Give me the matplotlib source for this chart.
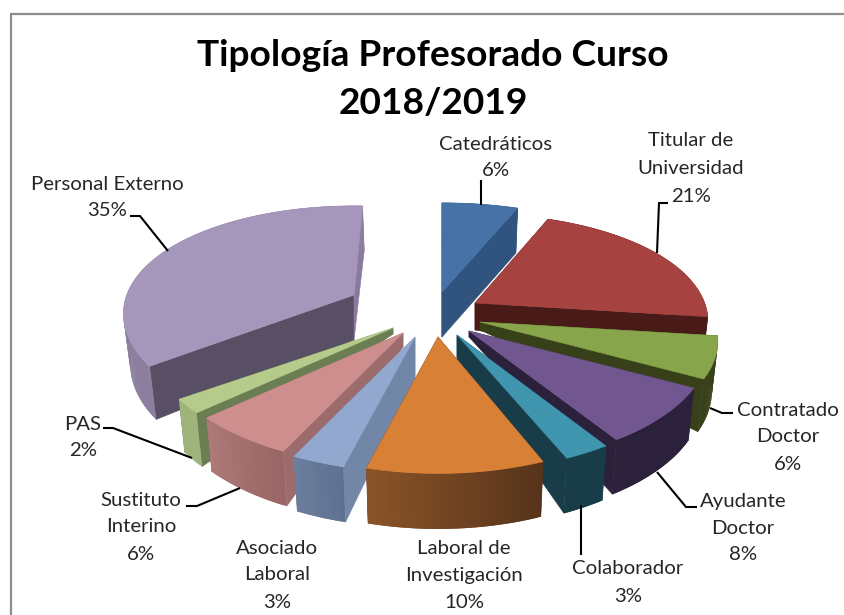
import numpy as np
import matplotlib
matplotlib.use("Agg")
import matplotlib.pyplot as plt
from matplotlib.colors import to_rgb
from matplotlib.patches import Polygon

# ---- data ----
categories = ["Catedráticos", "Titular de\nUniversidad", "Contratado\nDoctor", "Ayudante\nDoctor",
              "Colaborador", "Laboral de\nInvestigación", "Asociado\nLaboral", "Sustituto\nInterino",
              "PAS", "Personal Externo"]
values = [6, 21, 6, 8, 3, 10, 3, 6, 2, 35]
title = "Tipología Profesorado Curso\n2018/2019"

# ---- styling / layout (pixel space of the 844x615 canvas) ----
top_colors = ["#4672a8", "#a6423f", "#87a54a", "#71568f", "#3f96ae", "#d88036", "#93a8cf", "#ce8e8d", "#b5cb8c", "#a597bb"]
face_colors = ["#30547e", "#481a18", "#384019", "#2c213a", "#193c49", "#56331a", "#7287a8", "#9c6c6c", "#6b7d53", "#594f64"]
arc_start = ["#30547e", "#481a18", "#384019", "#2c213a", "#193c49", "#56331a", "#5f7090", "#996665", "#9fb47b", "#8c7f9e"]
arc_end = ["#30547e", "#481a18", "#384019", "#2c213a", "#193c49", "#8a5428", "#6b7e9c", "#ad7a78", "#9fb47b", "#8c7f9e"]
tips = [(442, 292), (475, 303), (480, 322), (469, 331), (457, 335), (438, 337), (415, 337), (403, 333), (393, 328), (354, 295)]
tip_depth = [45, 27, 8, 6, 26, 40, 41, 14, 6, 45]
scale_x = [1.0, 0.965, 0.985, 0.99, 1.0, 1.01, 1.01, 1.0, 1.0, 0.955]
scale_y = [1.0, 1.0, 1.0, 1.0, 1.02, 1.02, 1.01, 1.0, 1.0, 1.0]
sweep_stretch = [1.0, 1.0, 1.0, 1.0, 0.88, 1.0, 1.0, 1.0, 1.0, 1.02]
draw_order = [9, 0, 1, 2, 3, 4, 8, 7, 6, 5]
label_pos = [(496, [144, 170]), (691, [140, 167, 195]), (788, [409, 436, 463]), (743, [500, 527, 554]),
             (628, [568, 595]), (464, [547, 574, 601]), (277, [547, 574, 601]), (141, [499, 526, 554]),
             (83, [423, 450]), (107, [183, 209])]
leaders = [[(481, 180), (481, 205)],
           [(668, 203), (659, 203), (657, 253)],
           [(710, 408), (722, 413), (733, 413)],
           [(657, 472), (686, 507), (697, 507)],
           [(581, 505), (581, 555)],
           [],
           [],
           [(186, 506), (197, 506), (240, 488)],
           [(103, 428), (113, 428), (192, 458)],
           [(130, 216), (140, 216), (168, 251)]]
RX, KX, RY, KY, CX = 238.0, 0.17, 107.0, 0.20, 440.0

plt.rcParams["font.family"] = ["Lato", "DejaVu Sans"]
fig = plt.figure(figsize=(8.44, 6.15), dpi=100, facecolor="white")
ax = fig.add_axes([0, 0, 1, 1])
ax.set_xlim(0, 844)
ax.set_ylim(615, 0)
ax.axis("off")

# chart frame
ax.plot([10.5, 10.5, 846], [620, 14, 14], color="#8c8c8c", lw=1.6, solid_joinstyle="miter")


def rim(i, theta, t_start):
    tx, ty = tips[i]
    th = t_start + (theta - t_start) * sweep_stretch[i]
    s, c = np.sin(th), np.cos(th)
    return (tx + RX * scale_x[i] * s / (1 + KX * c),
            ty - RY * scale_y[i] * c / (1 + KY * c))


def drop(x, y, theta):
    return (CX + (x - CX) * 0.978, y + 50 * (1 - 0.11 * np.cos(theta)))


total = sum(values)
edges = np.cumsum([0] + values) / total * 2 * np.pi

for i in draw_order:
    t0, t1 = edges[i], edges[i + 1]
    thetas = np.linspace(t0, t1, max(5, int(values[i] * 6)))
    tx, ty = tips[i]
    tip_low = (tx, ty + tip_depth[i])
    z = 2 + draw_order.index(i)
    # radial cut faces
    for t, col in ((t0, face_colors[i]), (t1, "#8a7a9e" if i == 9 else face_colors[i])):
        p = rim(i, t, t0)
        ax.add_patch(Polygon([(tx, ty), p, drop(*p, t), tip_low], fc=col, ec=col, lw=0.4, zorder=z))
    # outer rim with a horizontal shade; each strip overlaps the next to avoid seams
    c0, c1 = np.array(to_rgb(arc_start[i])), np.array(to_rgb(arc_end[i]))
    n = len(thetas)
    for k in range(n - 1):
        a, b = thetas[k], thetas[min(k + 2, n - 1)]
        pa, pb = rim(i, a, t0), rim(i, b, t0)
        col = c0 + (c1 - c0) * k / max(1, n - 2)
        ax.add_patch(Polygon([pa, pb, drop(*pb, b), drop(*pa, a)], fc=col, ec="none", lw=0, zorder=z + 0.1 + 0.001 * k))
    # top face
    pts = [(tx, ty)] + [rim(i, t, t0) for t in thetas]
    ax.add_patch(Polygon(pts, fc=top_colors[i], ec=top_colors[i], lw=0.4, zorder=z + 0.5))

# leader lines
for path in leaders:
    if path:
        xs, ys = zip(*path)
        ax.plot(xs, ys, color="black", lw=1.5, zorder=30, solid_capstyle="butt", solid_joinstyle="miter")

# labels
for cat, v, (x, ys) in zip(categories, values, label_pos):
    for line, y in zip(cat.split("\n") + [f"{v}%"], ys):
        ax.text(x, y + 1, line, ha="center", va="center", fontsize=14.7, color="#262626", zorder=31)

# title
for line, y in zip(title.split("\n"), (56, 103)):
    ax.text(433, y, line, ha="center", va="center", fontsize=26.7, fontweight="bold", color="black", zorder=31)

fig.savefig("out.png", dpi=100, facecolor="white")
